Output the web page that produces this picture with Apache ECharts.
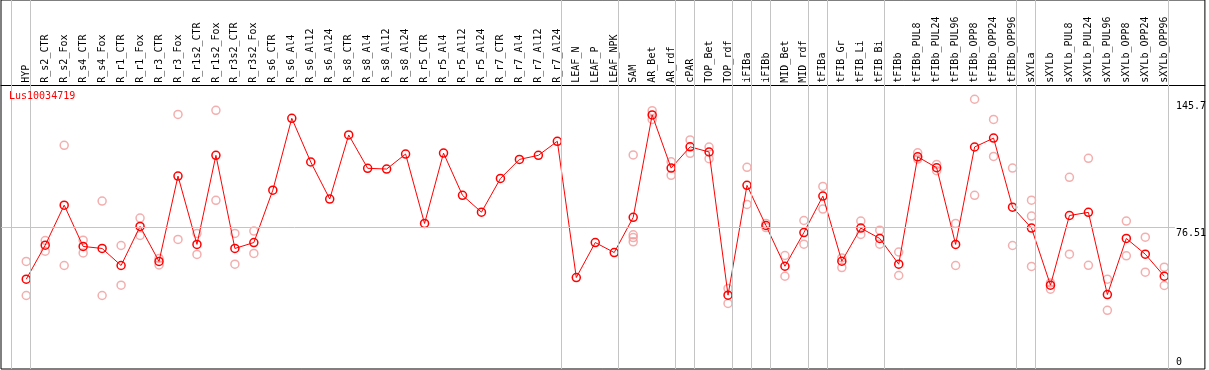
<!DOCTYPE html>
<html>
<head>
<meta charset="utf-8">
<script src="https://cdn.jsdelivr.net/npm/echarts@6/dist/echarts.min.js"></script>
<style>
  html, body { margin: 0; padding: 0; background: #fff; }
  #chart { width: 1209px; height: 370px; }
</style>
</head>
<body>
<div id="chart"></div>
<script>
const title = 'Lus10034719';
const categories = ['HYP','R_s2_CTR','R_s2_Fox','R_s4_CTR','R_s4_Fox','R_r1_CTR','R_r1_Fox','R_r3_CTR','R_r3_Fox','R_r1s2_CTR','R_r1s2_Fox','R_r3s2_CTR','R_r3s2_Fox','R_s6_CTR','R_s6_Al4','R_s6_Al12','R_s6_Al24','R_s8_CTR','R_s8_Al4','R_s8_Al12','R_s8_Al24','R_r5_CTR','R_r5_Al4','R_r5_Al12','R_r5_Al24','R_r7_CTR','R_r7_Al4','R_r7_Al12','R_r7_Al24','LEAF_N','LEAF_P','LEAF_NPK','SAM','AR_Bet','AR_rdf','cPAR','TOP_Bet','TOP_rdf','iFIBa','iFIBb','MID_Bet','MID_rdf','tFIBa','tFIB_Gr','tFIB_Li','tFIB_Bi','tFIBb','tFIBb_PUL8','tFIBb_PUL24','tFIBb_PUL96','tFIBb_OPP8','tFIBb_OPP24','tFIBb_OPP96','sXYLa','sXYLb','sXYLb_PUL8','sXYLb_PUL24','sXYLb_PUL96','sXYLb_OPP8','sXYLb_OPP24','sXYLb_OPP96'];
const meanValues = [48.5,66.9,88.5,66.2,65.1,55.9,77.0,58.1,104.2,67.3,115.4,65.1,68.3,96.6,135.4,111.8,91.8,126.4,108.4,108.0,116.1,78.6,116.6,93.8,84.7,102.9,113.2,115.4,123.0,49.4,68.3,62.9,81.9,137.2,108.5,120.0,117.2,39.9,99.2,77.5,55.5,73.7,93.4,58.2,76.1,70.5,56.6,114.6,108.7,67.3,119.9,124.7,87.4,76.1,45.3,82.9,84.6,40.2,70.5,62.0,50.1];
const rep1 = [58.1,69.4,120.8,69.6,90.7,66.7,81.5,59.7,137.5,73.2,139.7,73.2,74.5,null,null,null,null,null,null,null,null,null,null,null,null,null,null,null,null,null,null,null,115.6,139.5,111.9,123.7,119.9,43.5,108.9,78.6,61.3,80.2,98.6,60.0,79.9,75.0,63.2,116.8,110.5,78.6,145.7,134.8,108.5,91.2,46.5,103.5,113.8,48.5,79.9,71.2,55.0];
const rep2 = [39.7,63.6,55.9,62.7,39.7,45.3,72.1,56.2,70.0,61.9,91.1,56.6,62.4,null,null,null,null,null,null,null,null,null,null,null,null,null,null,null,null,null,null,null,72.5,134.8,104.6,116.5,113.6,35.4,88.9,76.4,50.1,67.4,86.4,54.8,72.7,67.4,50.5,113.4,107.1,55.9,93.8,114.8,66.7,82.6,43.1,62.0,56.0,31.7,61.1,52.3,45.1];
const rep3 = {32: 71.0, 53: 55.4};
const rep4 = {32: 68.7};
const yTickLabels = [0, 76.51, 145.7];
const groupEnds = [-1, 0, 28, 31, 34, 35, 37, 38, 39, 41, 42, 45, 52, 53, 60];

const mono = 'DejaVu Sans Mono';
const xMin = -1.3316, xMax = 62.142;
const yMax = 199.3;

const lineData = meanValues.map((v, i) => [i, v]);
const repData = [];
[rep1, rep2].forEach(arr => arr.forEach((v, i) => { if (v != null) repData.push([i, v]); }));
[rep3, rep4].forEach(obj => Object.keys(obj).forEach(k => repData.push([+k, obj[k]])));

const chart = echarts.init(document.getElementById('chart'), null, { renderer: 'canvas' });
chart.setOption({
  animation: false,
  backgroundColor: '#fff',
  title: {
    text: title, left: 9, top: 91, padding: 0,
    textStyle: { color: '#ff0000', fontFamily: mono, fontSize: 10, fontWeight: 'normal' }
  },
  grid: { left: 1, top: 0, width: 1206, height: 369, show: true, borderColor: '#000', borderWidth: 1, backgroundColor: '#fff' },
  xAxis: [
    { type: 'value', min: xMin, max: xMax, position: 'bottom', show: true,
      axisLine: { show: false, onZero: false }, axisTick: { show: false }, axisLabel: { show: false }, splitLine: { show: false } },
    { type: 'value', min: xMin, max: xMax, position: 'top', offset: -85.7,
      axisLine: { show: true, onZero: false, lineStyle: { color: '#000', width: 1 } },
      axisTick: { show: false }, splitLine: { show: false },
      axisLabel: { show: true, rotate: -90, margin: 3, customValues: categories.map((c, i) => i),
        formatter: v => categories[Math.round(v)] || '',
        fontFamily: mono, fontSize: 10, color: '#000' } }
  ],
  yAxis: [
    { type: 'value', min: 0, max: yMax, position: 'right',
      axisLine: { show: false, onZero: false }, axisTick: { show: false }, splitLine: { show: false },
      axisLabel: { show: true, inside: true, align: 'left', verticalAlign: 'top', margin: 29,
        customValues: yTickLabels.filter(v => v !== 0),
        formatter: v => (v === 145.7 ? '{p|' + v + '}' : '' + v),
        rich: { p: { padding: [2, 0, 0, 0], fontFamily: mono, fontSize: 10, color: '#000' } },
        fontFamily: mono, fontSize: 10, lineHeight: 12, color: '#000' } },
    { type: 'value', min: 0, max: yMax, position: 'right',
      axisLine: { show: false, onZero: false }, axisTick: { show: false }, splitLine: { show: false },
      axisLabel: { show: true, inside: true, align: 'left', verticalAlign: 'bottom', margin: 29,
        customValues: yTickLabels.filter(v => v === 0),
        fontFamily: mono, fontSize: 10, lineHeight: 14, color: '#000' } }
  ],
  series: [
    { type: 'scatter', xAxisIndex: 0, yAxisIndex: 0, data: repData, z: 2,
      symbol: 'circle', symbolSize: 8,
      itemStyle: { color: 'rgba(0,0,0,0)', borderColor: '#f09a9a', borderWidth: 1.5 },
      silent: true,
      markLine: {
        silent: true, symbol: ['none', 'none'], label: { show: false },
        lineStyle: { color: '#c4c4c4', width: 1, type: 'solid' },
        data: groupEnds.map(g => ({ xAxis: g + 0.22 })).concat([
          [{ coord: [xMin, yTickLabels[1]] }, { coord: [60.56, yTickLabels[1]] }]
        ])
      } },
    { type: 'line', xAxisIndex: 0, yAxisIndex: 0, data: lineData, z: 3,
      symbol: 'circle', symbolSize: 8, showAllSymbol: true,
      lineStyle: { color: '#ff0000', width: 1 },
      itemStyle: { color: 'rgba(0,0,0,0)', borderColor: '#ff0000', borderWidth: 1.5 },
      silent: true }
  ]
});
</script>
</body>
</html>
